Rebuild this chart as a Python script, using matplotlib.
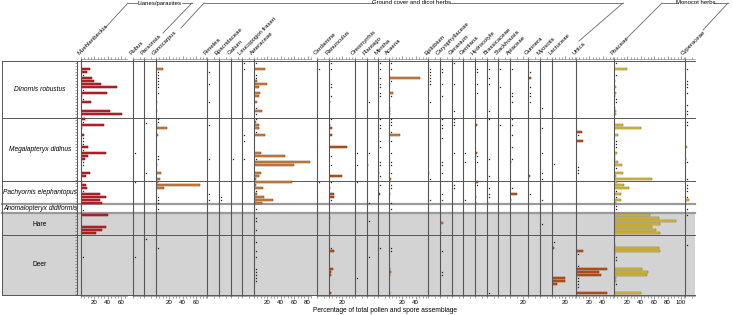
"""Pollen diagram: percentage of pollen taxa per coprolite sample."""
import matplotlib

matplotlib.use("Agg")

import numpy as np  # noqa: E402
import matplotlib.pyplot as plt  # noqa: E402
from matplotlib.ticker import MultipleLocator  # noqa: E402

plt.rcParams["font.family"] = ["Liberation Sans", "DejaVu Sans"]

W, H = 733, 315
T = 0.5  # trace (<1 %) -- drawn as a dot, not a bar

# (sample level, % of total pollen and spore assemblage)
muehlenbeckia = [(69, 13), (72, 9), (75, T), (78, 16), (81, 19), (84, 30), (87, 54), (90, T),
                 (93, 39), (96, 2), (99, T), (102, 15), (111, 43), (114, 61), (119, 6), (122, T),
                 (125, 34), (128, 2), (135, 4), (138, T), (141, T), (144, T), (147, 10), (150, T),
                 (153, 37), (156, 10), (159, 6), (162, T), (165, T), (173, 14), (176, 8), (182, 2),
                 (185, 8), (188, 9), (191, T), (194, 29), (197, 37), (200, 29), (203, 31), (210, T),
                 (215, 40), (227, 38), (230, 31), (233, 23), (257, T)]
rubus = [(153, T), (182, T), (257, T)]
parsonsia = [(123, T), (173, T), (239, T)]
gonocarpus = [(69, 10), (72, T), (75, T), (78, T), (81, T), (84, T), (87, T), (93, T), (102, 2),
              (111, 2), (119, T), (122, T), (125, 2), (128, 17), (135, 3), (156, T), (159, T),
              (165, 2), (173, 8), (179, 6), (182, 3), (185, 66), (188, 12), (197, T), (200, T),
              (203, T), (209, T), (248, T)]
pimelea = [(72, T), (84, T), (102, T), (125, T), (159, T), (194, T), (200, T)]
epacridaceae = [(197, T), (200, T)]
galium = [(159, T)]
leucopogon = [(63, T), (69, T), (135, T), (141, T), (159, T)]
asteraceae = [(63, T), (69, 16), (75, T), (78, T), (81, 4), (84, 20), (87, 7), (93, 9), (96, 7),
              (102, 5), (108, T), (111, 12), (114, T), (119, T), (122, 3), (125, 7), (128, 8),
              (132, T), (135, 17), (153, 11), (156, 47), (159, T), (162, 84), (165, 59), (173, 10),
              (176, 7), (179, 3), (182, 57), (185, 3), (188, 13), (191, T), (194, 4), (197, 15),
              (200, 29), (203, 12), (209, T), (218, T), (221, T), (230, T), (242, T), (251, T),
              (257, T), (269, T), (272, T), (275, T), (278, T), (281, T)]
cardamine = [(69, T), (182, T)]
ranunculus = [(63, T), (69, T), (84, T), (87, T), (96, T), (102, 2), (119, T), (125, 2), (128, 4),
              (135, 4), (147, 27), (156, T), (165, T), (176, 19), (182, T), (188, 2), (194, 8),
              (197, 8), (200, T), (218, 2), (248, T), (251, 7), (269, 6), (272, 3), (275, 3),
              (293, 3)]
oreomyrrhis = [(153, T), (165, T), (182, T), (278, T)]
plantago = [(102, T), (153, T), (165, 2), (203, T), (221, T), (257, T)]
mentha = [(63, T), (69, T), (78, T), (84, T), (87, T), (93, T), (96, T), (119, T), (125, T),
          (128, T), (141, T), (147, T), (162, T), (165, T), (173, 2), (176, T), (185, T),
          (194, 3), (248, T)]
acaena = [(63, T), (69, T), (78, 46), (81, T), (84, 2), (93, 6), (96, T), (108, 2), (111, 2),
          (114, 2), (119, T), (122, T), (125, T), (132, T), (135, 16), (141, T), (153, T),
          (162, T), (165, T), (173, T), (179, 3), (182, 2), (185, T), (188, T), (194, 2),
          (203, T), (209, T), (248, T), (251, T), (269, 2), (272, 3), (275, 2), (293, 2)]
epilobium = [(69, T), (72, T), (75, T), (78, T), (81, T), (84, T), (102, T), (173, 2), (179, T),
             (200, T)]
caryophyllaceae = [(69, T), (72, T), (84, T), (96, T), (119, T), (125, T), (128, T), (138, T),
                   (162, T), (165, T), (173, T), (194, T), (200, T), (223, 5), (233, 2), (251, T),
                   (272, T), (275, T)]
geranium = [(63, T), (84, T), (111, T), (119, T), (122, T), (125, T), (153, T), (185, T), (188, T)]
gentiana = [(153, T), (162, T), (200, T)]
hydrocotyle = [(69, T), (72, T), (84, T), (93, T), (125, 3), (153, 3), (156, T), (162, T),
               (182, 4), (185, T), (197, 2), (203, 2)]
brassicaceae = [(69, T), (78, T), (84, T), (111, T), (119, T), (159, T), (176, T), (188, T),
                (194, T), (197, T), (203, 2), (293, T)]
stackhousia = [(69, T), (87, T), (125, T)]
apiaceae = [(69, T), (93, T), (96, T), (102, T), (119, T), (125, T), (135, T), (147, T), (159, T),
            (162, 2), (188, T), (194, 10), (200, 2)]
gunnera = [(72, T), (78, 4), (87, T), (93, T), (96, T), (102, T), (176, 3), (194, T)]
myosotis = [(108, T), (128, T), (153, T), (173, T), (179, T), (200, T), (224, T)]
lactuceae = [(164, T), (242, T), (248, 3), (278, 19), (281, 19), (284, 8)]
urtica = [(132, 9), (135, T), (141, 10), (167, T), (170, T), (173, T), (251, 11), (254, T),
          (266, T), (269, 46), (272, 35), (275, 37), (278, T), (281, T), (284, T), (287, T),
          (293, 47)]
poaceae = [(63, T), (69, 19), (75, T), (81, 2), (87, 3), (93, 3), (96, 2), (99, T), (102, T),
           (108, 2), (111, 3), (114, 3), (125, 14), (128, 40), (135, 6), (141, T), (144, T),
           (147, T), (153, 4), (156, 2), (159, 2), (162, 6), (165, 12), (168, T), (173, 14),
           (176, 3), (179, 57), (182, 5), (185, 15), (188, 23), (191, T), (194, 11), (197, T),
           (200, 11), (203, 3), (206, T), (209, T), (215, 54), (218, 67), (221, 93), (224, 68),
           (227, 56), (230, 63), (233, 68), (236, 2), (245, 2), (248, 67), (251, 69), (254, 2),
           (257, T), (260, T), (269, 42), (272, 50), (275, 49), (278, 3), (281, 3), (284, T),
           (293, 41)]
cyperaceae = [(69, T), (81, T), (84, T), (87, T), (93, T), (105, T), (111, T), (114, T), (122, T),
              (125, T), (147, 3), (159, 2), (162, T), (179, T), (185, T), (188, T), (191, T),
              (197, T), (200, 6), (209, T), (215, T), (245, T)]

groups = ["Dinornis robustus", "Megalapteryx didinus", "Pachyornis elephantopus",
          "Anomalopteryx didiformis", "Hare", "Deer"]
group_edges = [61, 118, 181, 204, 213, 235, 295]

STYLES = {
    "red": ("#c8222b", "#6e0b0b"),
    "orange": ("#d4843f", "#7a3b10"),
    "rust": ("#c4561f", "#6a2a08"),
    "yellow": ("#e2c545", "#76660f"),
}

# name, data, left px, right px, colour
panels = [
    ("Muehlenbeckia", muehlenbeckia, 81, 127, "red"),
    ("Rubus", rubus, 133, 144, "orange"),
    ("Parsonsia", parsonsia, 144, 156, "orange"),
    ("Gonocarpus", gonocarpus, 156, 207, "orange"),
    ("Pimelea", pimelea, 207, 219, "orange"),
    ("Epacridaceae", epacridaceae, 219, 231, "orange"),
    ("Galium", galium, 231, 242, "orange"),
    ("Leucopogon fraseri", leucopogon, 242, 254, "orange"),
    ("Asteraceae", asteraceae, 254, 311, "orange"),
    ("Cardamine", cardamine, 317, 329, "orange"),
    ("Ranunculus", ranunculus, 329, 355, "rust"),
    ("Oreomyrrhis", oreomyrrhis, 355, 367, "orange"),
    ("Plantago", plantago, 367, 378, "orange"),
    ("Mentha", mentha, 378, 389, "rust"),
    ("Acaena", acaena, 389, 428, "orange"),
    ("Epilobium", epilobium, 428, 440, "orange"),
    ("Caryophyllaceae", caryophyllaceae, 440, 452, "orange"),
    ("Geranium", geranium, 452, 463, "orange"),
    ("Gentiana", gentiana, 463, 475, "orange"),
    ("Hydrocotyle", hydrocotyle, 475, 487, "rust"),
    ("Brassicaceae", brassicaceae, 487, 498, "orange"),
    ("Stackhousia", stackhousia, 498, 510, "orange"),
    ("Apiaceae", apiaceae, 510, 528, "rust"),
    ("Gunnera", gunnera, 528, 540, "rust"),
    ("Myosotis", myosotis, 540, 552, "orange"),
    ("Lactuceae", lactuceae, 552, 576, "rust"),
    ("Urtica", urtica, 576, 614, "rust"),
    ("Poaceae", poaceae, 614, 685, "yellow"),
    ("Cyperaceae", cyperaceae, 685, 695, "yellow"),
]

PX_PER_PCT = 0.67
TOP, BOTTOM = 59, 296
LINE = "#555555"


def px_rect(x0, x1, y0, y1):
    return [x0 / W, 1 - y1 / H, (x1 - x0) / W, (y1 - y0) / H]


fig = plt.figure(figsize=(W / 100, H / 100), dpi=100)

# background / frame drawn in pixel coordinates
bg = fig.add_axes([0, 0, 1, 1], zorder=0)
bg.set_xlim(0, W)
bg.set_ylim(H, 0)
bg.axis("off")
bg.axhspan(group_edges[4], group_edges[-1], xmin=2 / W, xmax=695 / W, color="#d3d3d3", lw=0)
for i, y in enumerate(group_edges):
    thick = i in (3, 4)
    bg.plot([2, 695], [y, y], color="#9a9a9a" if thick else LINE, lw=1.6 if thick else 0.7)
bg.plot([2, 2], [group_edges[0], group_edges[-1]], color=LINE, lw=0.7)
for name, y0, y1 in zip(groups, group_edges[:-1], group_edges[1:]):
    italic = name not in ("Hare", "Deer")
    bg.text(40, (y0 + y1) / 2, name, ha="center", va="center", fontsize=4.8,
            style="italic" if italic else "normal")

# group headers
hdr_kw = dict(color="#666666", lw=0.6)
bg.plot([128, 137], [3, 3], **hdr_kw)
bg.plot([182, 192], [3, 3], **hdr_kw)
bg.plot([128, 106], [3, 27], **hdr_kw)
bg.plot([192, 163], [3, 33], **hdr_kw)
bg.text(159.5, 3, "Lianes/parasites", ha="center", va="center", fontsize=4.3)
bg.plot([204, 373], [3, 3], **hdr_kw)
bg.plot([450, 623], [3, 3], **hdr_kw)
bg.plot([204, 181], [3, 28], **hdr_kw)
bg.plot([623, 579], [3, 41], **hdr_kw)
bg.text(411.5, 3, "Ground cover and dicot herbs", ha="center", va="center", fontsize=4.3)
bg.plot([662, 677], [3, 3], **hdr_kw)
bg.plot([714, 728], [3, 3], **hdr_kw)
bg.plot([662, 627], [3, 38], **hdr_kw)
bg.plot([728, 703], [3, 30], **hdr_kw)
bg.text(695.5, 3, "Monocot herbs", ha="center", va="center", fontsize=4.3)

# sample axis
dax = fig.add_axes(px_rect(77, 78, group_edges[0], group_edges[-1]), facecolor="none")
dax.set_ylim(group_edges[-1], group_edges[0])
dax.set_yticks(np.arange(group_edges[0] + 2, group_edges[-1], 3))
dax.set_yticklabels([])
dax.set_xticks([])
for s in ("top", "right", "bottom"):
    dax.spines[s].set_visible(False)
dax.spines["left"].set_color(LINE)
dax.spines["left"].set_linewidth(0.7)
dax.tick_params(axis="y", length=1.8, width=0.4, color=LINE)

for name, data, x0, x1, style in panels:
    face, edge = STYLES[style]
    ax = fig.add_axes(px_rect(x0, x1, TOP, BOTTOM), facecolor="none")
    xmax = (x1 - x0) / PX_PER_PCT
    ax.set_xlim(0, xmax)
    ax.set_ylim(BOTTOM, TOP)
    levels = [lv for lv, v in data if v >= 1]
    values = [v for lv, v in data if v >= 1]
    ax.barh(levels, values, height=2.3, left=0, color=face, edgecolor=edge, lw=0.35)
    trace = [lv for lv, v in data if v < 1]
    ax.plot([2.2 / PX_PER_PCT] * len(trace), trace, "s", ms=0.9, mew=0, color="#222222")

    ax.set_yticks([])
    ax.set_xticks(np.arange(20, xmax + 0.1, 20))
    ax.xaxis.set_minor_locator(MultipleLocator(10 if xmax < 30 else 5))
    ax.tick_params(axis="x", which="both", top=True, direction="out", labelsize=4.4,
                   pad=1, color=LINE, width=0.4)
    ax.tick_params(axis="x", which="major", length=2)
    ax.tick_params(axis="x", which="minor", length=1.2)
    ax.spines["right"].set_visible(False)
    for s in ("top", "bottom"):
        ax.spines[s].set_color("#888888")
        ax.spines[s].set_linewidth(0.5)
    ax.spines["left"].set_color(LINE)
    ax.spines["left"].set_linewidth(0.8)

    bg.text(x0 - 1, 56, name, rotation=45, rotation_mode="anchor", ha="left", va="bottom",
            fontsize=4.3)

bg.text(385, 310, "Percentage of total pollen and spore assemblage", ha="center", va="center",
        fontsize=4.8)

fig.savefig("out.png", dpi=100)
